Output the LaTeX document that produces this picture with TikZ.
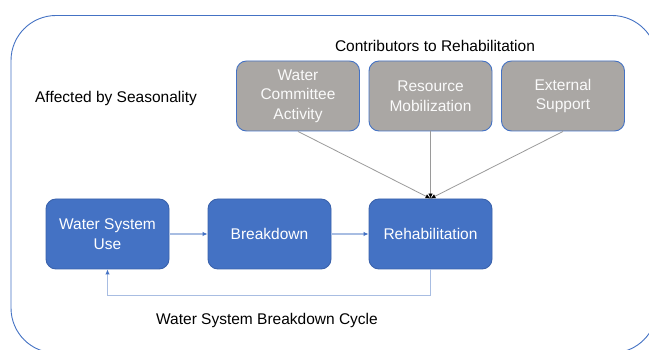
\documentclass[tikz,border=0pt]{standalone}
\usepackage{fontspec}
\setmainfont{Liberation Sans}
\usetikzlibrary{arrows.meta}
\definecolor{boxblue}{HTML}{4472C4}
\definecolor{boxblueline}{HTML}{3A62AC}
\definecolor{boxgray}{HTML}{AAA7A4}
\definecolor{flowline}{HTML}{A8BDE2}
\definecolor{feedline}{HTML}{9A9A9A}
\begin{document}
\begin{tikzpicture}[x=1pt,y=-1pt,
  txt/.style={font=\fontsize{15.5}{19.5}\selectfont, text=black, inner sep=0pt},
  stage/.style={draw=boxblueline, line width=0.9pt, fill=boxblue, rounded corners=10pt,
    minimum width=123pt, minimum height=70pt, align=center, text=white,
    font=\fontsize{15.5}{19.5}\selectfont},
  factor/.style={stage, draw=boxblue, fill=boxgray, text=white!96!gray},
  flow/.style={draw=flowline, line width=1.1pt, -{Latex[length=5pt,width=4.5pt,color=boxblue]}},
  feed/.style={draw=feedline, line width=0.8pt, -{Latex[length=5pt,width=4.5pt,color=black]}}
]
\useasboundingbox (0,0) rectangle (649,350);
\fill[white] (0,0) rectangle (649,350);

% outer frame
\draw[boxblue, line width=0.9pt, rounded corners=45pt] (11,15.5) rectangle (657,353);

% headings
\node[txt] (contrib) at (435,46) {Contributors to Rehabilitation};
\node[txt] (season) at (116,98) {Affected by Seasonality};
\node[txt] (cycle) at (267,320) {Water System Breakdown Cycle};

% contributing factors
\node[factor] (wca) at (298,96) {Water\\Committee\\Activity};
\node[factor] (rm) at (430.5,96) {Resource\\Mobilization};
\node[factor] (es) at (563,96) {External\\Support};

% breakdown cycle
\node[stage] (use) at (107.5,234) {Water System\\Use};
\node[stage] (brk) at (269.5,234) {Breakdown};
\node[stage] (reh) at (430.5,234) {Rehabilitation};

% connectors
\draw[feed] (wca.south) -- (reh.north);
\draw[feed] (rm.south) -- (reh.north);
\draw[feed] (es.south) -- (reh.north);

\draw[flow] (use.east) -- (brk.west);
\draw[flow] (brk.east) -- (reh.west);
\draw[flow] (reh.south) -- ++(0,26) -| (use.south);
\end{tikzpicture}
\end{document}
